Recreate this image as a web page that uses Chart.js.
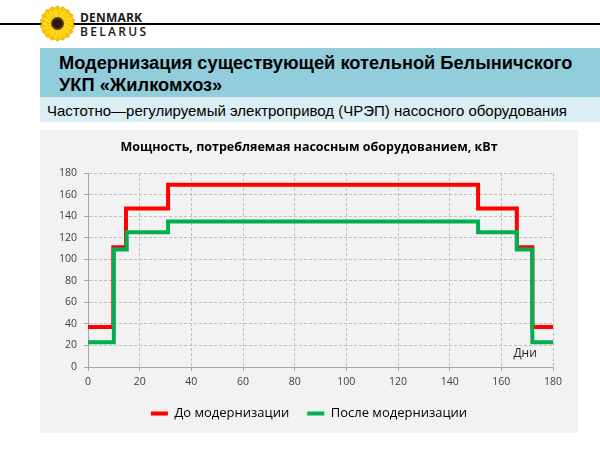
<!DOCTYPE html>
<html><head><meta charset="utf-8">
<script src="https://cdn.jsdelivr.net/npm/chart.js@4"></script>
<style>
html,body{margin:0;padding:0;background:#fff;width:600px;height:450px;overflow:hidden;position:relative;font-family:"Liberation Sans",Arial,sans-serif;}
#hline{position:absolute;left:0;top:23px;width:600px;height:1.5px;background:#000;}
#logo{position:absolute;left:39px;top:5px;width:37px;height:37px;}
#dk{position:absolute;left:80px;top:12px;font:700 12px/12px "Open Sans";color:#1a1a1a;letter-spacing:0.2px;}
#by{position:absolute;left:80px;top:26px;font:600 12px/12px "Open Sans";letter-spacing:2.3px;color:#1a1a1a;}
#band1{position:absolute;left:40px;top:48px;width:560px;height:49px;background:#92CDDC;}
#title{position:absolute;left:59px;top:52px;font:700 18.25px/22px "Liberation Sans";color:#000;white-space:nowrap;}
#band2{position:absolute;left:40px;top:97px;width:560px;height:25px;background:#DAEEF3;}
#sub{position:absolute;left:47px;top:101.5px;font:400 15px "Liberation Sans";color:#000;white-space:nowrap;}
#box{position:absolute;left:40px;top:130px;width:538px;height:303px;background:#F2F2F2;}
</style>
</head><body>
<div id="hline"></div>
<svg id="logo" viewBox="-20 -20 40 40">
  <g id="petals"></g>
  <circle r="7" fill="#5a3a10"/>
  <circle r="5" fill="#2a1a08"/>
</svg>
<div id="dk">DENMARK</div>
<div id="by">BELARUS</div>
<div id="band1"></div>
<div id="title">Модернизация существующей котельной Белыничского<br>УКП «Жилкомхоз»</div>
<div id="band2"></div>
<div id="sub">Частотно—регулируемый электропривод (ЧРЭП) насосного оборудования</div>
<div id="box"><canvas id="c"></canvas></div>
<script>
// ---- data ----
const chartTitle = 'Мощность, потребляемая насосным оборудованием, кВт';
const seriesNames = ['До модернизации', 'После модернизации'];
const xAxisLabel = 'Дни';
const beforeDays  = [0, 9.8, 14.7, 31, 151, 166, 172, 180];
const beforePower = [37, 111, 147, 169, 147, 111, 37, 37];
const afterDays   = [0, 10, 15, 31, 151, 166, 172, 180];
const afterPower  = [23, 109, 125, 135, 125, 109, 23, 23];
const xRange = [0, 180];
const yRange = [0, 180];
const tickStep = 20;

// ---- sunflower petals ----
(function(){
  const g = document.getElementById('petals');
  let s = '';
  for (let i = 0; i < 18; i++) {
    const a = i * 20;
    s += '<ellipse cx="0" cy="-12" rx="3.6" ry="7" fill="#F7C800" stroke="#E6A400" stroke-width="0.6" transform="rotate(' + a + ')"/>';
  }
  for (let i = 0; i < 18; i++) {
    const a = i * 20 + 10;
    s += '<ellipse cx="0" cy="-11" rx="3.2" ry="6" fill="#FFD91A" stroke="#E6A400" stroke-width="0.5" transform="rotate(' + a + ')"/>';
  }
  g.innerHTML = s;
})();

const toPts = (xs, ys) => xs.map((x, i) => ({x: x, y: ys[i]}));

const dniPlugin = {
  id: 'dni',
  afterDatasetsDraw(chart) {
    const c = chart.ctx, xs = chart.scales.x, ys = chart.scales.y;
    c.save();
    c.font = '12px "Open Sans"';
    c.fillStyle = '#262626';
    c.textAlign = 'center';
    c.textBaseline = 'middle';
    c.fillText(xAxisLabel, xs.getPixelForValue(169.2), ys.getPixelForValue(12.4));
    c.restore();
  }
};

const tickFont = {family: 'Open Sans', size: 10.5};
const gridOpts = {color: '#BFBFBF', tickLength: 4, tickColor: '#A6A6A6'};
const borderOpts = {display: true, color: '#A6A6A6', width: 1, dash: [3, 2]};

new Chart(document.getElementById('c'), {
  type: 'line',
  data: {
    datasets: [
      {label: seriesNames[0], data: toPts(beforeDays, beforePower), borderColor: '#FF0000', backgroundColor: '#FF0000',
       borderWidth: 4, pointRadius: 0, stepped: 'before', fill: false, order: 1},
      {label: seriesNames[1], data: toPts(afterDays, afterPower), borderColor: '#00B050', backgroundColor: '#00B050',
       borderWidth: 4, pointRadius: 0, stepped: 'before', fill: false, order: 0}
    ]
  },
  options: {
    responsive: true, maintainAspectRatio: false, animation: false,
    devicePixelRatio: 1,
    layout: {padding: {left: 0, right: 0, top: 0, bottom: 3}},
    scales: {
      x: {type: 'linear', min: xRange[0], max: xRange[1],
          ticks: {stepSize: tickStep, color: '#404040', font: tickFont, padding: 5, maxRotation: 0},
          grid: gridOpts, border: borderOpts,
          afterFit: s => { s.height = 22; }},
      y: {type: 'linear', min: yRange[0], max: yRange[1],
          ticks: {stepSize: tickStep, color: '#404040', font: tickFont, padding: 7},
          grid: gridOpts, border: borderOpts,
          afterFit: s => { s.width = 48; }},
      yRight: {type: 'linear', position: 'right', display: true,
          ticks: {display: false}, grid: {display: false, drawTicks: false}, border: {display: false},
          afterFit: s => { s.width = 25; }}
    },
    plugins: {
      title: {display: true, text: chartTitle, color: '#000',
              font: {family: 'Open Sans', size: 12.5, weight: 'bold'}, padding: {top: 10, bottom: 18}},
      legend: {position: 'bottom',
        labels: {boxWidth: 17, boxHeight: 4, padding: 18, color: '#000',
                 font: {family: 'Open Sans', size: 13},
                 generateLabels: ch => ch.data.datasets.map((d, i) => ({
                   text: d.label, fillStyle: d.borderColor, strokeStyle: d.borderColor,
                   lineWidth: 0, hidden: false, datasetIndex: i, fontColor: '#000'}))}},
      tooltip: {enabled: false}
    }
  },
  plugins: [dniPlugin]
});
</script>
</body></html>
